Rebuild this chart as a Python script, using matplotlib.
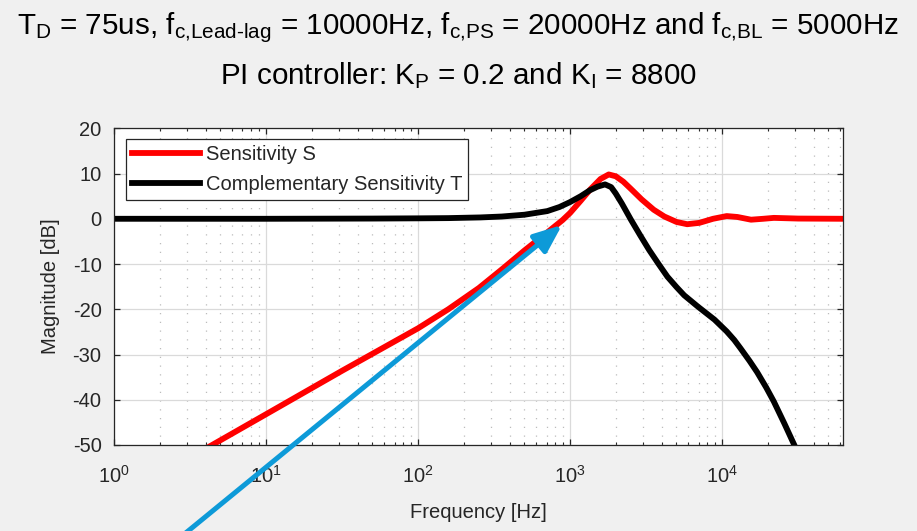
import numpy as np
import matplotlib
matplotlib.use('Agg')
import matplotlib.pyplot as plt

# frequency [Hz] / magnitude [dB]
freq_S = [3.16, 4.42, 10, 31.6, 100, 158, 251, 355, 501, 708, 891, 1000, 1175,
          1349, 1585, 1795, 1995, 2239, 2512, 2951, 3548, 4169, 5012, 5888,
          7079, 8710, 10715, 12589, 15488, 18621, 21878, 31623, 63096]
mag_S = [-52.8, -50, -43.2, -33.6, -24.2, -20.0, -15.3, -11.2, -7.0, -3.0, -0.3,
         1.3, 4.0, 6.4, 8.8, 9.8, 9.4, 8.2, 6.6, 4.3, 2.0, 0.5, -0.7, -1.2,
         -0.9, 0.0, 0.6, 0.4, -0.2, 0.0, 0.2, 0.05, 0.0]

freq_T = [1, 10, 50, 100, 158, 257, 355, 501, 708, 851, 1000, 1175, 1349, 1514,
          1698, 1862, 1995, 2188, 2512, 2884, 3311, 3802, 4365, 5012, 5623,
          6918, 8913, 10715, 12023, 13183, 15136, 16982, 19498, 21878, 25704,
          30200, 35481]
mag_T = [0, 0, 0.05, 0.1, 0.15, 0.3, 0.5, 0.9, 1.7, 2.6, 3.7, 5.0, 6.3, 7.1,
         7.6, 7.0, 5.6, 3.4, -0.2, -3.6, -6.9, -9.9, -12.8, -15.1, -16.9,
         -19.4, -22.3, -24.9, -26.8, -28.6, -31.4, -33.9, -37.3, -40.4, -45.3,
         -50.4, -55.6]

y_ticks = [-50, -40, -30, -20, -10, 0, 10, 20]

line1 = (r'T$_{\text{D}}$ = 75us, f$_{\text{c,Lead-lag}}$ = 10000Hz, '
         r'f$_{\text{c,PS}}$ = 20000Hz and f$_{\text{c,BL}}$ = 5000Hz')
line2 = r'PI controller: K$_{\text{P}}$ = 0.2 and K$_{\text{I}}$ = 8800'

plt.rcParams['font.family'] = ['Liberation Sans', 'DejaVu Sans']
plt.rcParams['mathtext.fontset'] = 'custom'
plt.rcParams['mathtext.rm'] = 'Liberation Sans'
plt.rcParams['mathtext.it'] = 'Liberation Sans:italic'
plt.rcParams['mathtext.bf'] = 'Liberation Sans:bold'
plt.rcParams['axes.unicode_minus'] = False

dark = '#262626'

fig = plt.figure(figsize=(9.17, 5.31), dpi=100, facecolor='#f0f0f0')
ax = fig.add_axes([114/917, 86/531, 729.5/917, 316.7/531])
ax.set_facecolor('white')

ax.plot(freq_S, mag_S, color='red', lw=4.2, label='Sensitivity S')
ax.plot(freq_T, mag_T, color='black', lw=4.2, label='Complementary Sensitivity T')

ax.set_xscale('log')
ax.set_xlim(1, 62832)
ax.set_ylim(-50, 20)
ax.set_yticks(y_ticks)

ax.set_axisbelow(True)
ax.grid(True, which='major', color='#dadada', lw=0.9)
ax.grid(True, which='minor', axis='x', color='#bcbcbc', lw=0.9, ls=(0, (1, 6)))

ax.tick_params(which='both', direction='in', top=True, right=True,
               colors=dark, labelsize=14.5)
ax.tick_params(which='major', length=4, width=0.9, pad=9)
ax.tick_params(which='minor', length=2.5, width=0.8)
ax.tick_params(axis='x', which='major', pad=14)
for s in ax.spines.values():
    s.set_color(dark)
    s.set_linewidth(0.9)

ax.set_xlabel('Frequency [Hz]', fontsize=14.5, color=dark, labelpad=12)
ax.set_ylabel('Magnitude [dB]', fontsize=14.5, color=dark, labelpad=9)

leg = ax.legend(loc='upper left', bbox_to_anchor=(0.0164, 0.966), borderaxespad=0,
                fontsize=14.5, handlelength=3.4, handletextpad=0.25,
                labelspacing=0.55, borderpad=0.3, fancybox=False,
                framealpha=1, edgecolor=dark)
leg.get_frame().set_linewidth(0.9)
for t in leg.get_texts():
    t.set_color(dark)

fig.text(0.5, 497/531, line1, ha='center', va='baseline', fontsize=21.3, color='black')
fig.text(0.5, 447/531, line2, ha='center', va='baseline', fontsize=21.3, color='black')

# blue pointer arrow drawn on top of the figure
ax.annotate('', xy=(562, 306), xytext=(182, -5),
            xycoords='figure pixels', textcoords='figure pixels',
            arrowprops=dict(arrowstyle='-|>,head_length=0.85,head_width=0.35',
                            color='#0d9ad8', lw=3.6, shrinkA=0, shrinkB=0,
                            mutation_scale=20),
            annotation_clip=False)

plt.savefig('out.png', dpi=100, facecolor=fig.get_facecolor())
